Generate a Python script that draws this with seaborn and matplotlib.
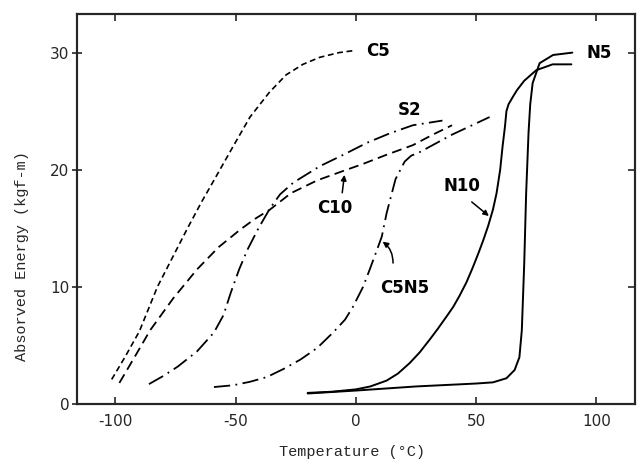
import matplotlib
matplotlib.use("Agg")
import matplotlib.pyplot as plt
import seaborn as sns
import pandas as pd

# curves: temperature (degC), absorbed energy (kgf-m)
c5_t = [-101.5, -96, -90, -82.5, -76, -70, -64, -59, -51, -44, -36, -29, -22, -15, -7, 0]
c5_e = [2.1, 4.0, 6.2, 10.0, 12.6, 15.0, 17.3, 19.1, 22.0, 24.5, 26.6, 28.1, 29.0, 29.6, 30.0, 30.2]

c10_t = [-98.3, -92, -85.5, -76, -66, -57, -48, -42, -35.7, -27, -16, -6.6, 3, 13, 23.7, 32, 40]
c10_e = [1.8, 4.0, 6.3, 9.0, 11.5, 13.4, 14.9, 15.8, 16.6, 18.0, 19.1, 19.8, 20.5, 21.3, 22.1, 23.0, 23.8]

s2_t = [-86, -80, -74, -66, -59, -55, -52, -48.5, -45, -40.5, -35.7, -31.5, -26, -15, -5, 4.6, 14, 23.7, 36]
s2_e = [1.7, 2.4, 3.2, 4.5, 6.1, 7.6, 9.5, 11.5, 13.2, 15.0, 16.7, 17.9, 18.9, 20.3, 21.3, 22.3, 23.1, 23.8, 24.2]

c5n5_t = [-59, -51, -44, -37, -30, -23, -16, -9.5, -4.5, -1.2, 3, 5.8, 8.5, 10.8, 12.8, 16.5, 20.3, 23, 26.5, 40, 55.6]
c5n5_e = [1.45, 1.6, 1.9, 2.3, 3.0, 3.8, 4.8, 6.1, 7.2, 8.3, 10.0, 11.5, 13.0, 14.3, 16.3, 19.2, 20.7, 21.2, 21.5, 23.0, 24.5]

n10_t = [-20, -10, 0, 6, 12.8, 17.5, 22.4, 26.5, 30.7, 34, 37.8, 40.5, 43, 46, 48.5, 51, 53, 55, 57, 58.5, 60, 61,
         62, 62.6, 63.5, 65.5, 67, 70, 75, 81.8, 89.6]
n10_e = [0.95, 1.05, 1.25, 1.5, 2.0, 2.6, 3.5, 4.4, 5.5, 6.4, 7.5, 8.3, 9.2, 10.4, 11.6, 12.9, 14.0, 15.2, 16.6, 18.0,
         20.0, 22.0, 23.7, 25.0, 25.6, 26.3, 26.8, 27.6, 28.5, 29.0, 29.0]

n5_t = [-20, 0, 25, 50, 57, 62.6, 66, 68, 69, 70, 70.8, 71.8, 72.5, 73.5, 76.4, 82, 90]
n5_e = [0.9, 1.15, 1.5, 1.75, 1.85, 2.2, 2.9, 4.0, 6.3, 12.0, 18.0, 23.2, 25.6, 27.4, 29.1, 29.8, 30.0]

x_ticks = [-100, -50, 0, 50, 100]
y_ticks = [0, 10, 20, 30]

curves = [
    ("C5", c5_t, c5_e, (0, (3.5, 2.2)), 1.2),
    ("C10", c10_t, c10_e, (0, (5.5, 3)), 1.3),
    ("S2", s2_t, s2_e, (0, (9, 3, 1, 3)), 1.3),
    ("C5N5", c5n5_t, c5n5_e, (0, (9, 3, 1, 3)), 1.3),
    ("N10", n10_t, n10_e, "-", 1.4),
    ("N5", n5_t, n5_e, "-", 1.4),
]

sns.set_style("ticks")
plt.rcParams["axes.unicode_minus"] = False

fig = plt.figure(figsize=(6.4, 4.66), dpi=100)
ax = fig.add_axes([0.120, 0.133, 0.872, 0.837])

for name, t, e, ls, lw in curves:
    df = pd.DataFrame({"Temperature": t, "Energy": e})
    sns.lineplot(data=df, x="Temperature", y="Energy", sort=False, estimator=None,
                 color="black", linestyle=ls, linewidth=lw, ax=ax)

ax.set_xlim(-116, 116)
ax.set_ylim(0, 33.3)
ax.set_xticks(x_ticks)
ax.set_yticks(y_ticks)
ax.set_xlabel("")
ax.set_ylabel("")

for s in ax.spines.values():
    s.set_linewidth(1.5)
    s.set_color("black")

ax.tick_params(axis="x", which="both", direction="in", top=True, bottom=True,
               length=5, width=1.2, labelsize=11, pad=7)
ax.tick_params(axis="y", which="both", direction="inout", left=True, right=False,
               length=7, width=1.2, labelsize=11, pad=2)
ax2 = ax.twinx()
ax2.set_ylim(ax.get_ylim())
ax2.set_yticks(y_ticks[1:])
ax2.tick_params(axis="y", direction="in", length=5, width=1.2, labelright=False)
for s in ax2.spines.values():
    s.set_linewidth(1.5)

# curve labels
lab = dict(fontsize=12, color="black", ha="center", va="center", fontweight="semibold")
ax.text(9.1, 30.1, "C5", **lab)
ax.text(22.4, 25.1, "S2", **lab)
ax.text(-8.7, 16.7, "C10", **lab)
ax.text(44, 18.6, "N10", **lab)
ax.text(20.3, 9.9, "C5N5", **lab)
ax.text(101.2, 30.0, "N5", **lab)

arrow = dict(arrowstyle="-|>", color="black", lw=1.1, mutation_scale=8)
ax.annotate("", xy=(-4.6, 19.8), xytext=(-5.8, 17.8), arrowprops=arrow)
ax.annotate("", xy=(10.2, 14.0), xytext=(15.4, 11.8),
            arrowprops=dict(arrow, connectionstyle="arc3,rad=0.3"))
ax.annotate("", xy=(56.2, 15.9), xytext=(47.3, 17.4), arrowprops=arrow)

fig.text(0.034, 0.45, "Absorved Energy (kgf-m)", rotation=90, ha="center", va="center",
         fontsize=11, family="Liberation Mono")
fig.text(0.55, 0.03, "Temperature (\u00b0C)", ha="center", va="center",
         fontsize=11, family="Liberation Mono")

fig.savefig("out.png", dpi=100)
